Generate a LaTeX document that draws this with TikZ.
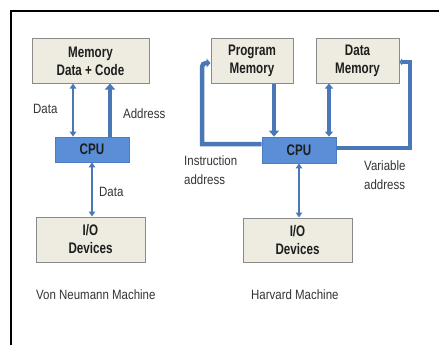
\documentclass[tikz,border=0pt]{standalone}
\usepackage{fontspec}
\setmainfont{Liberation Sans}
\newfontfamily\boxfont{Liberation Sans}[FakeStretch=0.76]
\newfontfamily\labelfont{Liberation Sans}[FakeStretch=0.85]
\usetikzlibrary{arrows.meta}

\definecolor{boxfill}{HTML}{EEECE1}
\definecolor{boxline}{HTML}{8A8A8A}
\definecolor{cpufill}{HTML}{5A8ED6}
\definecolor{cpuline}{HTML}{4A7CC2}
\definecolor{busblue}{HTML}{4A78B6}
\definecolor{textdark}{HTML}{1E1E1E}
\definecolor{textgray}{HTML}{333333}

\tikzset{
  membox/.style={draw=boxline, fill=boxfill, line width=1pt, inner sep=0pt,
    align=center, text=textdark,
    font=\boxfont\bfseries\fontsize{15.3}{18}\selectfont},
  cpubox/.style={draw=cpuline, fill=cpufill, line width=0.8pt, inner sep=0pt,
    align=center, text=textdark,
    font=\boxfont\bfseries\fontsize{15.3}{18}\selectfont},
  lbl/.style={inner sep=0pt, anchor=west, align=left, text=textgray,
    font=\labelfont\fontsize{13.5}{18.5}\selectfont},
  thinbus/.style={draw=busblue, line width=2.3pt,
    {Triangle[width=6.5pt,length=5pt]}-{Triangle[width=6.5pt,length=5pt]}},
  midbus/.style={draw=busblue, line width=3.3pt,
    {Triangle[width=8pt,length=5pt]}-{Triangle[width=8pt,length=5pt]}},
  thickbus/.style={draw=busblue, line width=4.5pt,
    -{Triangle[width=10pt,length=6pt]}},
  loopbus/.style={draw=busblue, line width=4.5pt,
    -{Triangle[width=9pt,length=4pt]}}
}

\begin{document}
\begin{tikzpicture}[x=1pt, y=-1pt]
  \useasboundingbox (0,0) rectangle (439,345);

  % frame edges
  \draw[line width=2pt, black] (11,345) -- (11,11) -- (439,11);

  % ---- Von Neumann machine ----
  \node[membox, minimum width=117pt, minimum height=44pt] (vnmem) at (90.5,61)
    {Memory\\Data + Code};
  \node[cpubox, minimum width=74pt, minimum height=25pt] (vncpu) at (92,149.5) {CPU};
  \node[membox, minimum width=109pt, minimum height=45pt] (vnio) at (90.5,239.5)
    {I/O\\Devices};

  \draw[thinbus] (vnmem.south -| 73,0) -- (vncpu.north -| 73,0);
  \draw[thickbus] (vncpu.north -| 110,0) -- (vnmem.south -| 110,0);
  \draw[thinbus] (vncpu.south -| 92,0) -- (vnio.north -| 92,0);

  \node[lbl] (vndata) at (33,109) {Data};
  \node[lbl] (vnaddr) at (123,114) {Address};
  \node[lbl] (vniodata) at (99,192) {Data};
  \node[lbl] (vncap) at (36,295) {Von Neumann Machine};

  % ---- Harvard machine ----
  \node[membox, minimum width=82pt, minimum height=44pt] (pm) at (252,61)
    {Program\\Memory};
  \node[membox, minimum width=83pt, minimum height=44pt] (dm) at (357.5,61)
    {Data\\Memory};
  \node[cpubox, minimum width=74pt, minimum height=26pt] (hcpu) at (299,150) {CPU};
  \node[membox, minimum width=109pt, minimum height=44pt] (hio) at (297.5,240)
    {I/O\\Devices};

  \draw[thickbus] (pm.south -| 274,0) -- (hcpu.north -| 274,0);
  \draw[midbus] (dm.south -| 329,0) -- (hcpu.north -| 329,0);
  \draw[thinbus] (hcpu.south -| 299,0) -- (hio.north -| 299,0);

  % instruction address loop (rounded at the top corner only)
  \draw[loopbus] ([yshift=6pt]hcpu.west) -- (202,144)
    {[rounded corners=4pt] -- (202,63) -- ([yshift=-2pt]pm.west)};
  % variable address loop
  \draw[loopbus, -{Triangle[width=7pt,length=2.5pt]}] ([yshift=2pt]hcpu.east)
    -- (410,148) -- (410,62) -- ([yshift=-1pt]dm.east);

  \node[lbl] (instr) at (184,170) {Instruction\\address};
  \node[lbl] (varaddr) at (364,175) {Variable\\address};
  \node[lbl] (hcap) at (251,295) {Harvard Machine};
\end{tikzpicture}
\end{document}
